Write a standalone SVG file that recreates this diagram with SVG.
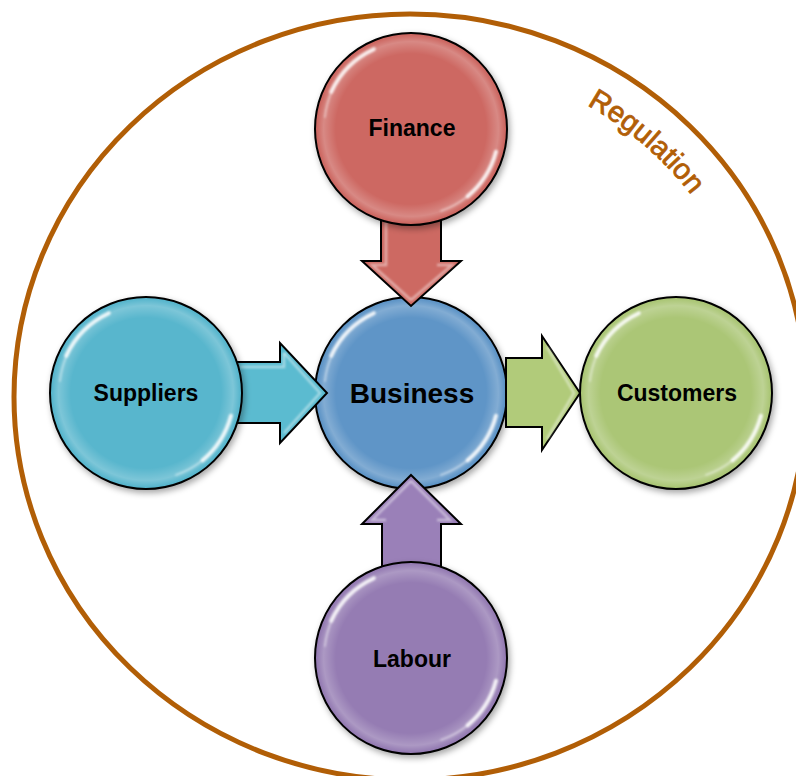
<svg xmlns="http://www.w3.org/2000/svg" xmlns:xlink="http://www.w3.org/1999/xlink" width="796" height="776" viewBox="0 0 796 776">
<style>
.lbl{font-family:"Liberation Sans",Arial,sans-serif;font-weight:bold;font-size:23px;fill:#000;text-anchor:middle}
.big{font-size:28px}
.node{stroke:#000;stroke-width:2}
.arr{stroke:#000;stroke-width:2;stroke-linejoin:miter}
.hl{fill:none;stroke:#fff;stroke-linecap:round}
.bev{fill:none;stroke:#fff;stroke-width:2.5;stroke-opacity:0.45;stroke-linejoin:miter}
.reg{font-family:"Liberation Sans",Arial,sans-serif;font-size:29px;fill:#B15E06;stroke:#B15E06;stroke-width:0.8}
</style>
<defs>
<filter id="sh" x="-20%" y="-20%" width="140%" height="140%">
<feDropShadow dx="2" dy="3" stdDeviation="3" flood-color="#000" flood-opacity="0.35"/>
</filter>
<filter id="bl" x="-20%" y="-20%" width="140%" height="140%">
<feGaussianBlur stdDeviation="1.3"/>
</filter>
<radialGradient id="rim" cx="50%" cy="50%" r="50%">
<stop offset="0.80" stop-color="#fff" stop-opacity="0"/>
<stop offset="0.93" stop-color="#fff" stop-opacity="0.22"/>
<stop offset="1" stop-color="#fff" stop-opacity="0"/>
</radialGradient>
<g id="gloss">
<circle r="94" fill="url(#rim)"/>
<g filter="url(#bl)">
<path class="hl" d="M -79.8 -37.2 A 88 88 0 0 1 -37.2 -79.8" stroke-width="4" stroke-opacity="0.85"/>
<path class="hl" d="M 85 22.8 A 88 88 0 0 1 56.6 67.4" stroke-width="4" stroke-opacity="0.85"/>
<path class="hl" d="M -86 -12 A 88 88 0 0 1 -80 -36" stroke-width="2" stroke-opacity="0.4"/>
<path class="hl" d="M 56.6 67.4 A 88 88 0 0 1 30 82" stroke-width="2" stroke-opacity="0.4"/>
</g>
</g>
</defs>

<ellipse id="regulation-ring" cx="410" cy="397" rx="396" ry="383" fill="none" stroke="#B15E06" stroke-width="5"/>
<path id="regpath" d="M 483.0 66.4 A 351 338 0 0 1 743.8 292.6" fill="none"/>
<text class="reg"><textPath href="#regpath" xlink:href="#regpath" startOffset="50%" text-anchor="middle">Regulation</textPath></text>

<g id="node-business">
<circle class="node" cx="411" cy="393" r="96" fill="#5F95C7" filter="url(#sh)"/>
<use href="#gloss" xlink:href="#gloss" x="411" y="393"/>
<text class="lbl big" x="412" y="403">Business</text>
</g>

<g id="connectors">
<g id="arrow-finance">
<polygon class="arr" points="381,210 441,210 441,261 461,261 411,306 362,261 381,261" fill="#CD6962"/>
<polyline class="bev" points="386,214 386,265 372,265 411,300" filter="url(#bl)"/>
<polyline class="bev" points="437,265 452,265 411,300" filter="url(#bl)"/>
</g>
<g id="arrow-suppliers">
<polygon class="arr" points="230,362 280,362 280,343 327,393 280,443 280,423 230,423" fill="#5BBBD0"/>
<polyline class="bev" points="284,353 284,367 240,367" filter="url(#bl)"/>
<polyline class="bev" points="284,353 320,393 284,433" filter="url(#bl)"/>
</g>
<g id="arrow-customers">
<polygon class="arr" points="506,358 542,358 542,336 580,393 542,450 542,427 506,427" fill="#B1CB7A"/>
<polyline class="bev" points="511,363 511,422" filter="url(#bl)"/>
<polyline class="bev" points="547,347 574,393 547,439" filter="url(#bl)"/>
</g>
<g id="arrow-labour">
<polygon class="arr" points="411,475 461,524 441,524 441,580 382,580 382,524 362,524" fill="#9A80B8"/>
<polyline class="bev" points="411,481 450,520 437,520" filter="url(#bl)"/>
<polyline class="bev" points="411,481 372,520 386,520" filter="url(#bl)"/>
</g>
</g>

<g id="node-finance">
<circle class="node" cx="411" cy="129" r="96" fill="#CD6762" filter="url(#sh)"/>
<use href="#gloss" xlink:href="#gloss" x="411" y="129"/>
<text class="lbl" x="412" y="136">Finance</text>
</g>

<g id="node-suppliers">
<circle class="node" cx="146" cy="393" r="96" fill="#58B6CD" filter="url(#sh)"/>
<use href="#gloss" xlink:href="#gloss" x="146" y="393"/>
<text class="lbl" x="146" y="401">Suppliers</text>
</g>

<g id="node-customers">
<circle class="node" cx="676" cy="393" r="96" fill="#ABC676" filter="url(#sh)"/>
<use href="#gloss" xlink:href="#gloss" x="676" y="393"/>
<text class="lbl" x="677" y="401">Customers</text>
</g>

<g id="node-labour">
<circle class="node" cx="411" cy="658" r="96" fill="#957BB3" filter="url(#sh)"/>
<use href="#gloss" xlink:href="#gloss" x="411" y="658"/>
<text class="lbl" x="412" y="667">Labour</text>
</g>
</svg>
